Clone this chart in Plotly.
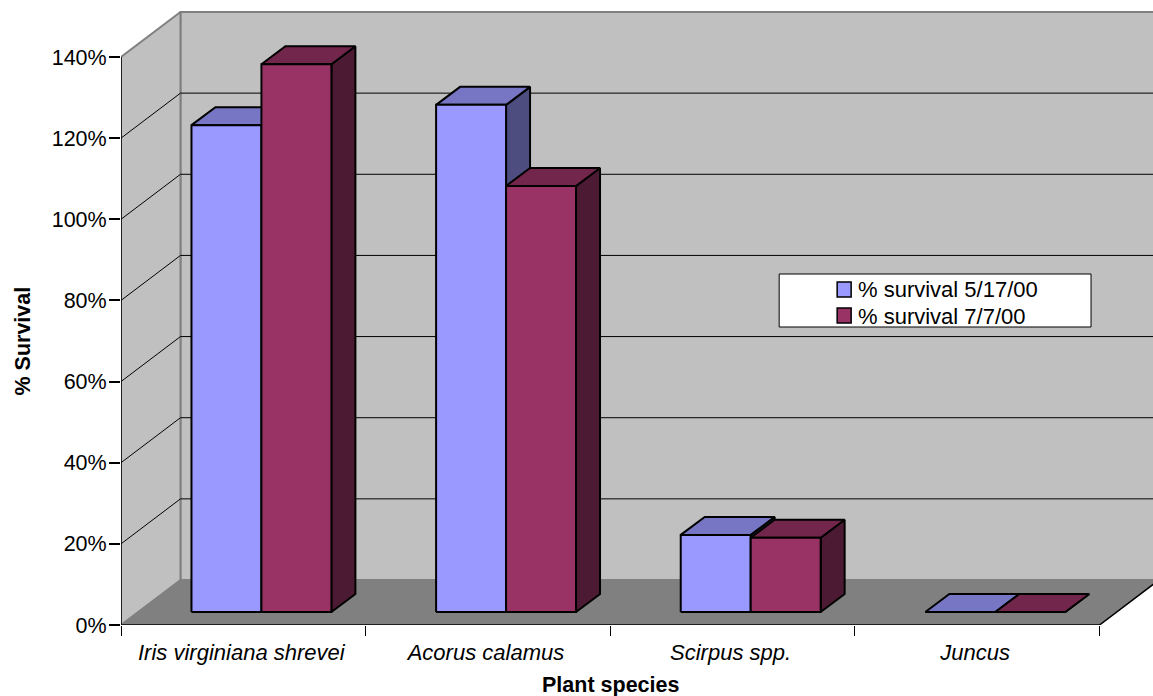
import plotly.graph_objects as go

categories = ["Iris virginiana shrevei", "Acorus calamus", "Scirpus spp.", "Juncus"]
survival_may = [120, 125, 19, 0]
survival_jul = [135, 105, 18.3, 0]
series_names = ["% survival 5/17/00", "% survival 7/7/00"]
y_ticks = [0, 20, 40, 60, 80, 100, 120, 140]
y_tick_text = ["0%", "20%", "40%", "60%", "80%", "100%", "120%", "140%"]
x_title = "Plant species"
y_title = "% Survival"

W, H = 1153, 696
L, T, B = 120.5, 8, 71
PX_X = 979 / 4
PX_Y = 568 / 140
X_MAX = (W - L) / PX_X
Y_MAX = (H - B - T) / PX_Y

WALL_DX, WALL_DY = 59.5 / PX_X, 45 / PX_Y
BAR_X0, BAR_W = 70.5 / PX_X, 70 / PX_X
BAR_BASE = 13 / PX_Y
BAR_DX, BAR_DY = 24 / PX_X, 18 / PX_Y
LABEL_SHIFT = 2 / PX_X

FONT = "Liberation Sans, Arial, sans-serif"
BLACK = "#000000"
GREY = "#808080"
WALL = "#C0C0C0"
faces = [
    dict(front="#9999FF", top="#7676C4", side="#4D4D80"),
    dict(front="#993366", top="#73264C", side="#4D1A33"),
]
LEGEND_ROWS = [(282, 297, 289), (308, 323, 316)]


def px_x(px):
    return (px - L) / (W - L)


def px_y(py):
    return 1 - (py - T) / (H - T - B)


fig = go.Figure()


def poly(xs, ys, fill, line=BLACK, width=2, name=None):
    fig.add_trace(go.Scatter(
        x=list(xs) + [xs[0]], y=list(ys) + [ys[0]], mode="lines", fill="toself",
        fillcolor=fill, name=name, line=dict(color=line, width=width),
        hoverinfo="skip", showlegend=False))


def stroke(xs, ys, color=BLACK, width=1):
    fig.add_trace(go.Scatter(
        x=xs, y=ys, mode="lines", line=dict(color=color, width=width),
        hoverinfo="skip", showlegend=False))


top = y_ticks[-1]
wall_right = X_MAX + 0.1
# back wall, side wall, floor
poly([WALL_DX, wall_right, wall_right, WALL_DX], [WALL_DY, WALL_DY, top + WALL_DY, top + WALL_DY], WALL, GREY, 2)
poly([0, WALL_DX, WALL_DX, 0], [0, WALL_DY, top + WALL_DY, top], WALL, GREY, 2)
poly([0, 4, 4 + WALL_DX, wall_right, wall_right, WALL_DX], [0, 0, WALL_DY, WALL_DY, WALL_DY, WALL_DY], GREY, GREY, 1)
# gridlines over both walls
for v in y_ticks[1:-1]:
    stroke([0, WALL_DX, wall_right], [v, v + WALL_DY, v + WALL_DY])
# front edges of the floor and the value axis line
stroke([0, 4, 4 + WALL_DX], [0, 0, WALL_DY], BLACK, 1.5)
stroke([0, 0], [0, top], BLACK, 1.5)

# bars: painter's order, from the values
for i in range(len(categories)):
    for s, vals in enumerate([survival_may, survival_jul]):
        v = vals[i]
        x0 = i + BAR_X0 + s * BAR_W
        x1 = x0 + BAR_W
        y0 = BAR_BASE
        y1 = BAR_BASE + v
        c = faces[s]
        poly([x1, x1 + BAR_DX, x1 + BAR_DX, x1], [y0, y0 + BAR_DY, y1 + BAR_DY, y1], c["side"])
        poly([x0, x0 + BAR_DX, x1 + BAR_DX, x1], [y1, y1 + BAR_DY, y1 + BAR_DY, y1], c["top"])
        poly([x0, x1, x1, x0], [y0, y0, y1, y1], c["front"], name=series_names[s])

shapes = [dict(type="rect", xref="paper", yref="paper", layer="above",
               x0=px_x(779), x1=px_x(1091), y0=px_y(327), y1=px_y(274),
               fillcolor="white", line=dict(color=BLACK, width=1))]
annotations = [
    dict(text=x_title, xref="paper", yref="paper", x=px_x(610), y=px_y(685),
         xanchor="center", yanchor="middle", showarrow=False,
         font=dict(family=FONT, size=21.5, weight="bold", color="black")),
    dict(text=y_title, xref="paper", yref="paper", x=px_x(22), y=px_y(341),
         xanchor="center", yanchor="middle", showarrow=False, textangle=-90,
         font=dict(family=FONT, size=21.5, weight="bold", color="black")),
]
for s, name in enumerate(series_names):
    y_a, y_b, y_c = LEGEND_ROWS[s]
    shapes.append(dict(type="rect", xref="paper", yref="paper", layer="above",
                       x0=px_x(837), x1=px_x(851), y0=px_y(y_b), y1=px_y(y_a),
                       fillcolor=faces[s]["front"], line=dict(color=BLACK, width=1.5)))
    annotations.append(dict(text=name, xref="paper", yref="paper", x=px_x(856), y=px_y(y_c),
                            xanchor="left", yanchor="middle", showarrow=False,
                            font=dict(family=FONT, size=22, color="black")))

fig.update_layout(
    width=W, height=H, autosize=False,
    margin=dict(l=L, r=0, t=T, b=B, autoexpand=False),
    paper_bgcolor="white", plot_bgcolor="rgba(0,0,0,0)",
    font=dict(family=FONT, size=22, color="black"),
    showlegend=False,
    xaxis=dict(
        range=[0, X_MAX], tickmode="array",
        tickvals=[k + 0.5 - LABEL_SHIFT for k in range(len(categories))], ticktext=categories,
        ticks="", showgrid=False, zeroline=False, showline=False,
        tickfont=dict(family=FONT, size=22, style="italic", color="black"), ticklabelstandoff=12,
        minor=dict(tickmode="array", tickvals=[0, 1, 2, 3, 4], ticks="outside", ticklen=10,
                   tickcolor=BLACK, tickwidth=1, showgrid=False),
        automargin=False, fixedrange=True),
    yaxis=dict(
        range=[0, Y_MAX], tickmode="array", tickvals=y_ticks, ticktext=y_tick_text,
        ticks="outside", ticklen=11, tickcolor=BLACK, tickwidth=1.5,
        showgrid=False, zeroline=False, showline=False,
        tickfont=dict(family=FONT, size=21.5, color="black"), ticklabelstandoff=-2,
        automargin=False, fixedrange=True),
    annotations=annotations,
    shapes=shapes,
)

fig.write_html("out.html", config=dict(displayModeBar=False),
               post_script="document.body.style.margin='0';")
